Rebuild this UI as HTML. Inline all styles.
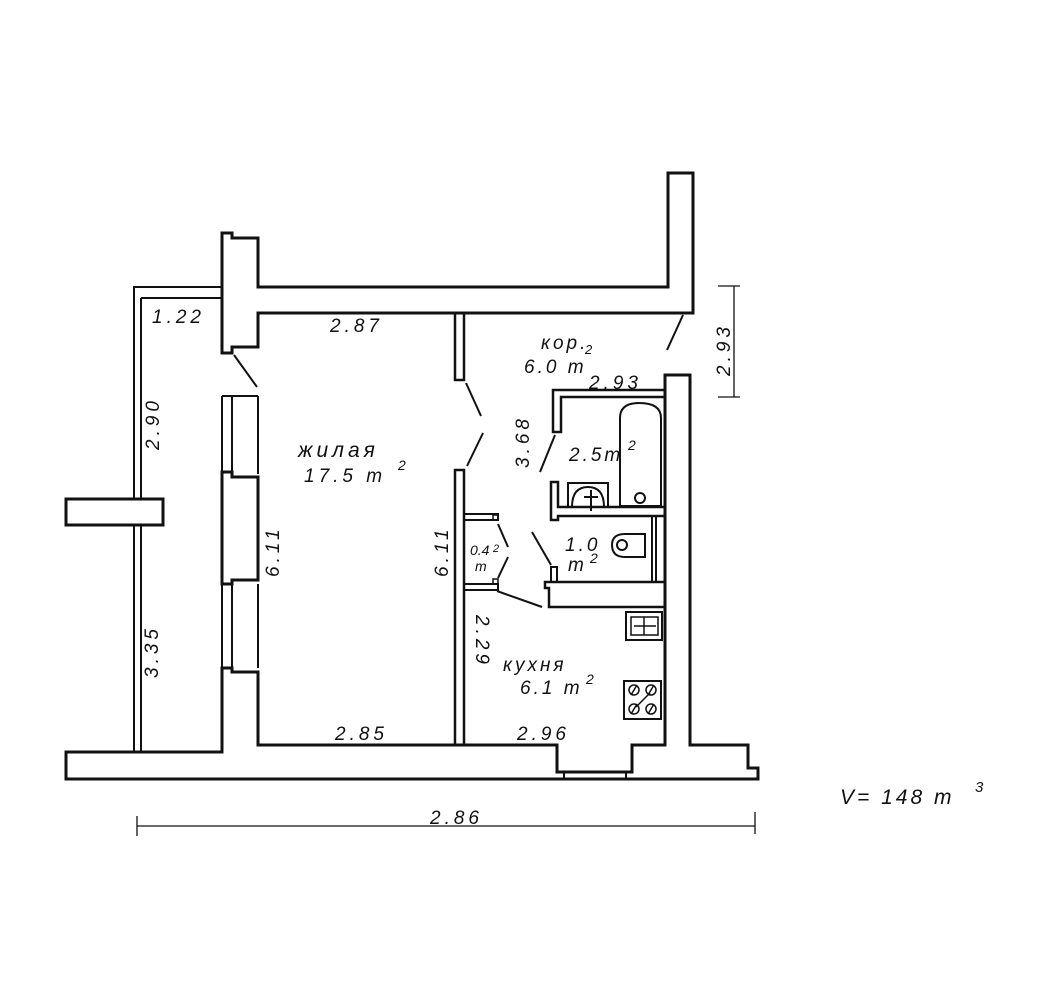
<!DOCTYPE html>
<html><head><meta charset="utf-8"><style>
html,body{margin:0;padding:0;background:#fff;}
svg{display:block}
text{font-family:"Liberation Sans",sans-serif;font-style:italic;fill:#111;}
</style></head><body>
<svg width="1056" height="992" viewBox="0 0 1056 992" xmlns="http://www.w3.org/2000/svg">
<g fill="none" stroke="#111" stroke-width="3" stroke-linejoin="miter">
<path d="M222,233 L232,233 L232,238 L258,238 L258,287 L668,287 L668,173 L693,173 L693,313 L258,313 L258,347 L232,347 L232,353 L222,353 Z"/>
<path d="M222,287 L134,287 L134,499" stroke-width="2"/>
<line x1="141" y1="298" x2="222" y2="298" stroke-width="2"/>
<line x1="141" y1="298" x2="141" y2="499" stroke-width="2"/>
<rect x="66" y="499" width="97" height="26"/>
<line x1="134" y1="525" x2="134" y2="752" stroke-width="2"/>
<line x1="141" y1="525" x2="141" y2="752" stroke-width="2"/>
<line x1="234" y1="355" x2="257" y2="387" stroke-width="2"/>
<path d="M222,396 L258,396 M222,396 L222,474 M232,396 L232,474 M258,396 L258,474" stroke-width="2"/>
<path d="M222,472 L232,472 L232,477 L258,477 L258,580 L232,580 L232,584 L222,584 Z"/>
<path d="M222,584 L222,670 M232,584 L232,668 M258,584 L258,668" stroke-width="2"/>
<path d="M222,668 L232,668 L232,672 L258,672 L258,745 L557,745 L557,772 L632,772 L632,745 L665,745 L665,375 L690,375 L690,745 L748,745 L748,768 L758,768 L758,779 L66,779 L66,752 L222,752 Z"/>
<line x1="564" y1="772" x2="564" y2="779" stroke-width="2"/>
<line x1="626" y1="772" x2="626" y2="779" stroke-width="2"/>
<line x1="683" y1="315" x2="667" y2="350" stroke-width="2"/>
<rect x="455" y="313" width="9" height="67" stroke-width="2.5"/>
<line x1="466" y1="383" x2="481" y2="416" stroke-width="2"/>
<line x1="483" y1="433" x2="467" y2="466" stroke-width="2"/>
<path d="M455,745 L455,470 L464,470 L464,745" stroke-width="2.5"/>
<path d="M665,390 L553,390 L553,432 L561,432 L561,397 L665,397" stroke-width="2.5"/>
<line x1="555" y1="435" x2="540" y2="472" stroke-width="2"/>
<path d="M620,506 L620,418 Q620,403 639,403 Q661,403 661,418 L661,506 Z" stroke-width="2"/>
<circle cx="640" cy="498" r="5" stroke-width="2"/>
<path d="M568,507 L568,483 L608,483 L608,507" stroke-width="2"/>
<path d="M572,507 Q572,487 588,487 Q604,487 604,507" stroke-width="2"/>
<line x1="591" y1="490" x2="591" y2="511" stroke-width="2"/>
<line x1="584" y1="497" x2="598" y2="497" stroke-width="2"/>
<path d="M551,482 L558,482 L558,507 L665,507 L665,516 L558,516 L558,520 L551,520 Z" stroke-width="2.5"/>
<line x1="652" y1="516" x2="652" y2="583" stroke-width="2"/>
<line x1="656" y1="516" x2="656" y2="583" stroke-width="2"/>
<path d="M645,534 L645,557 L625,557 Q612,557 612,545 Q612,534 625,534 Z" stroke-width="2"/>
<circle cx="622" cy="545" r="5" stroke-width="2"/>
<line x1="532" y1="532" x2="551" y2="565" stroke-width="2"/>
<rect x="551" y="567" width="6" height="15" stroke-width="2"/>
<path d="M545,582 L665,582 L665,607 L549,607 L549,588 L545,588 Z" stroke-width="2.5"/>
<path d="M464,514 L498,514 L498,520 L464,520" stroke-width="2"/>
<rect x="493" y="515" width="5" height="5" stroke-width="1.5"/>
<path d="M464,584 L498,584 L498,590 L464,590" stroke-width="2"/>
<rect x="493" y="579" width="5" height="5" stroke-width="1.5"/>
<line x1="498" y1="524" x2="508" y2="547" stroke-width="2"/>
<line x1="508" y1="557" x2="498" y2="578" stroke-width="2"/>
<line x1="497" y1="591" x2="542" y2="607" stroke-width="2"/>
<rect x="626" y="612" width="36" height="28" stroke-width="2"/>
<rect x="631" y="617" width="27" height="18" stroke-width="1.5"/>
<line x1="644" y1="617" x2="644" y2="635" stroke-width="1.5"/>
<line x1="634" y1="626" x2="656" y2="626" stroke-width="1.5"/>
<rect x="624" y="681" width="37" height="38" stroke-width="2"/>
<g stroke-width="1.5"><circle cx="634" cy="690" r="5"/><circle cx="651" cy="690" r="5"/><circle cx="634" cy="709" r="5"/><circle cx="651" cy="709" r="5"/>
<line x1="631" y1="695" x2="637" y2="685"/><line x1="648" y1="695" x2="654" y2="685"/><line x1="631" y1="714" x2="637" y2="704"/><line x1="648" y1="714" x2="654" y2="704"/><line x1="636" y1="707" x2="650" y2="693"/></g>
<g stroke-width="1.3"><line x1="734" y1="286" x2="734" y2="397"/><line x1="718" y1="286" x2="740" y2="286"/><line x1="718" y1="397" x2="740" y2="397"/>
<line x1="137" y1="826" x2="755" y2="826"/><line x1="137" y1="816" x2="137" y2="836"/><line x1="755" y1="812" x2="755" y2="834"/></g>
</g>
<g font-size="19">
<text x="152" y="323" letter-spacing="4">1.22</text>
<text x="330" y="332" letter-spacing="4">2.87</text>
<text x="541" y="349" letter-spacing="3">кор.</text><text x="585" y="354" font-size="13">2</text>
<text x="524" y="373" letter-spacing="3">6.0 m</text>
<text x="589" y="389" letter-spacing="4">2.93</text>
<text transform="translate(730,376) rotate(-90)" letter-spacing="4">2.93</text>
<text transform="translate(159,450) rotate(-90)" letter-spacing="4">2.90</text>
<text x="298" y="457" letter-spacing="4" font-size="21">жилая</text>
<text x="304" y="482" letter-spacing="4">17.5 m</text><text x="398" y="470" font-size="14">2</text>
<text transform="translate(279,577) rotate(-90)" letter-spacing="4">6.11</text>
<text transform="translate(448,577) rotate(-90)" letter-spacing="4">6.11</text>
<text transform="translate(529,468) rotate(-90)" letter-spacing="4">3.68</text>
<text x="569" y="461" letter-spacing="3">2.5m</text><text x="628" y="450" font-size="14">2</text>
<text x="470" y="555" font-size="14">0.4</text><text x="493" y="552" font-size="11">2</text><text x="475" y="571" font-size="14">m</text>
<text x="565" y="551" letter-spacing="3">1.0</text><text x="568" y="571">m</text><text x="590" y="563" font-size="14">2</text>
<text transform="translate(158,678) rotate(-90)" letter-spacing="4">3.35</text>
<text transform="translate(476,615) rotate(90)" letter-spacing="4">2.29</text>
<text x="503" y="671" letter-spacing="3">кухня</text>
<text x="520" y="694" letter-spacing="3">6.1 m</text><text x="586" y="684" font-size="14">2</text>
<text x="335" y="740" letter-spacing="4">2.85</text>
<text x="517" y="740" letter-spacing="4">2.96</text>
<text x="430" y="824" letter-spacing="4">2.86</text>
<text x="840" y="804" font-size="21" letter-spacing="3">V= 148  m</text><text x="975" y="792" font-size="15">3</text>
</g>
</svg>
</body></html>
